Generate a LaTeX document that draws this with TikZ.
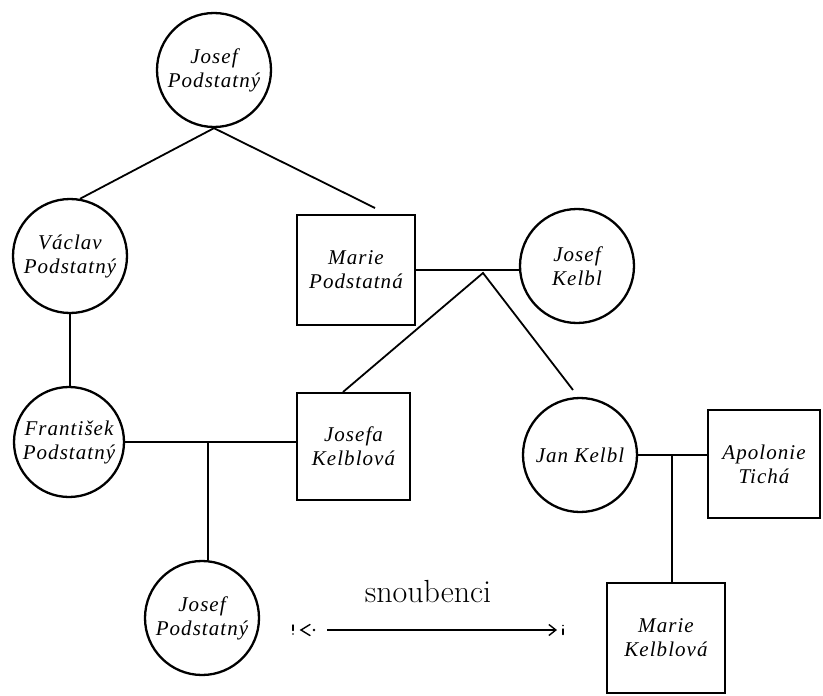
\documentclass[tikz,border=0pt]{standalone}
\usepackage{fontspec}
\usetikzlibrary{arrows.meta}
\newfontfamily\namesfont[LetterSpace=5]{Liberation Serif}
\begin{document}
\begin{tikzpicture}[x=1pt,y=-1pt,
  namefont/.style={font=\namesfont\fontsize{21}{24}\selectfont\itshape},
  person/.style={draw, circle, line width=2.3pt, minimum size=114pt,
    inner sep=0pt, align=center, namefont},
  personbox/.style={draw, rectangle, line width=2.1pt, inner sep=0pt,
    align=center, namefont},
  conn/.style={line width=1.8pt},
  barb/.style={line width=1.4pt, line cap=round, line join=miter}
]
\useasboundingbox (0,0) rectangle (823,696);

% people
\node[person] (jp1) at (214,70) {Josef\\Podstatný};
\node[person] (vp) at (70,256) {Václav\\Podstatný};
\node[personbox, minimum width=118pt, minimum height=110pt] (mp) at (356,270) {Marie\\Podstatná};
\node[person] (jk) at (577,266) {Josef\\Kelbl};
\node[person, minimum size=110pt] (fp) at (69,442) {František\\Podstatný};
\node[personbox, minimum width=113pt, minimum height=107pt] (jf) at (353.5,446.5) {Josefa\\Kelblová};
\node[person] (jan) at (580,455) {Jan Kelbl};
\node[personbox, minimum width=112pt, minimum height=108pt] (at) at (764,464) {Apolonie\\Tichá};
\node[person] (jp2) at (202,618) {Josef\\Podstatný};
\node[personbox, minimum width=118pt, minimum height=110pt] (mk) at (666,638) {Marie\\Kelblová};

% junctions and free line ends
\coordinate (mpTip) at (375,208);
\coordinate (k1) at (483,273);
\coordinate (jfTip) at (343,392);
\coordinate (janTip) at (573,390);
\coordinate (k2) at (208,442);
\coordinate (k3) at (672,455);

% descent lines
\draw[conn] (vp.80) -- (jp1.south) -- (mpTip);
\draw[conn] (vp.south) -- (vp.south |- fp.north);
\draw[conn] (mp.east) -- (mp.east -| jk.west);
\draw[conn] (jfTip) -- (k1) -- (janTip);
\draw[conn] (fp.east) -- (fp.east -| jf.west);
\draw[conn] (k2) -- (k2 |- jp2.north);
\draw[conn] (jan.east) -- (jan.east -| at.west);
\draw[conn] (k3) -- (k3 |- mk.north);

% engagement arrow
\node[font=\fontsize{32}{34}\selectfont] (lbl) at (428,592) {snoubenci};
\coordinate (aL) at (301,630);
\coordinate (aLin) at (327,630);
\coordinate (aR) at (557,630);
\draw[conn, -{Straight Barb[length=7pt,width=11pt,line width=1.4pt]}] (aLin) -- (aR);
\draw[barb] (310,624.5) -- (aL) -- (310,635.5);
\fill (314,630) circle (1.3pt);
\draw[barb] (293,625) -- (293,630.5);
\fill (293,634) circle (0.9pt);
\draw[barb] (563,629) -- (563,634.5);
\fill (563,625.5) circle (0.9pt);
\end{tikzpicture}
\end{document}
